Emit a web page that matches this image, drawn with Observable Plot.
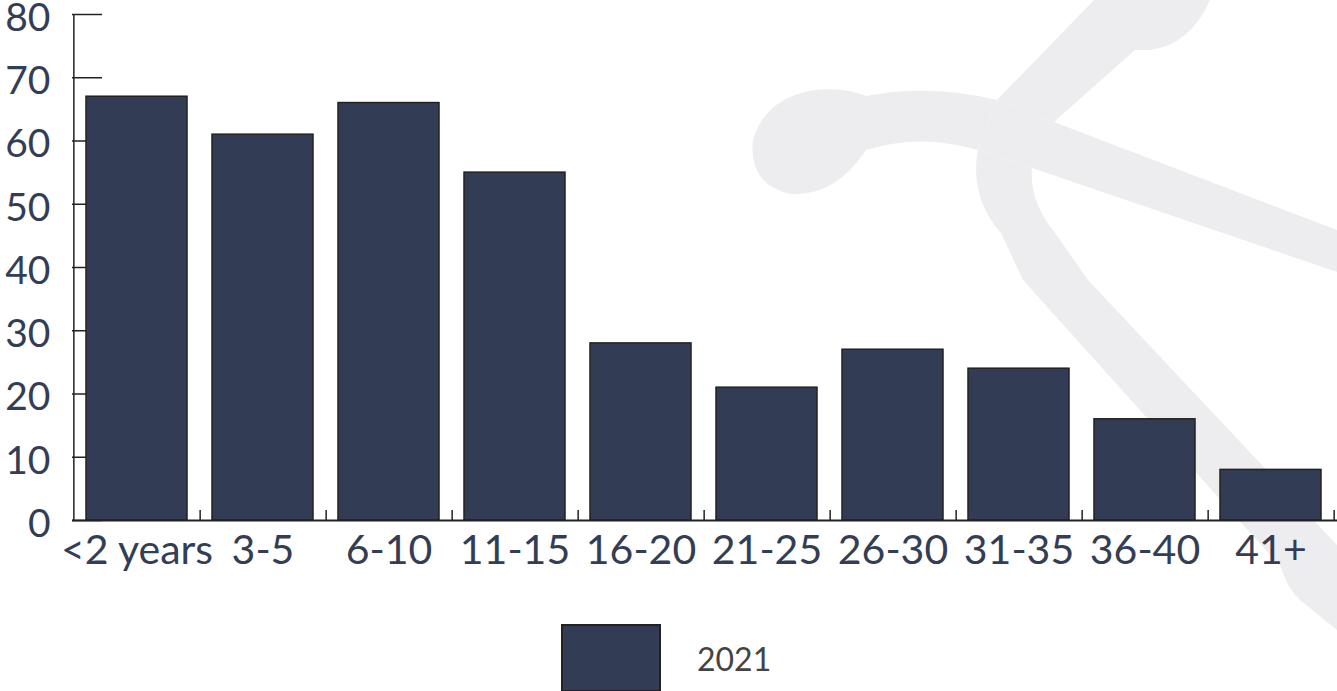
<!DOCTYPE html>
<html>
<head>
<meta charset="utf-8">
<script src="https://cdn.jsdelivr.net/npm/d3@7"></script>
<script src="https://cdn.jsdelivr.net/npm/@observablehq/plot@0.6"></script>
<style>
  html, body { margin: 0; padding: 0; background: #fff; }
  #wrap { position: relative; width: 1337px; height: 691px; overflow: hidden; font-family: Lato, "Noto Sans", sans-serif; }
  #bg { position: absolute; left: 0; top: 0; z-index: 0; }
  #chart { position: absolute; left: 0; top: 0; z-index: 1; }
  #legend { position: absolute; left: 561px; top: 624px; z-index: 2; display: flex; align-items: center; }
  #legend .sw { width: 96px; height: 64px; background: #333c55; border: 2px solid #222; box-sizing: content-box; }
  #legend .lb { margin-left: 36px; font-size: 32px; color: #444; font-family: Lato, sans-serif; }
</style>
</head>
<body>
<div id="wrap">
  <svg id="bg" width="1337" height="691" xmlns="http://www.w3.org/2000/svg">
    <g fill="#ededf0">
      <path d="M866 96 Q930 84 997 100 L978 150 Q920 133 866 150 Q835 197 790 194 Q748 184 753 140 Q765 98 815 90 Q845 87 866 96 Z"/>
      <path d="M1094 0 L1210 0 Q1190 45 1150 50 L1135 50 L1054 122 L997 100 Z"/>
      <path d="M997 100 L1054 122 L1032 168 L978 150 Z"/>
      <path d="M1054 122 L1337 230 L1337 272 L1032 168 Z"/>
      <path d="M978 150 C972 180 980 210 1001 233 L1023 280 L1281 567 Q1288 590 1300 600 L1337 630 L1337 545 L1088 280 L1055 233 C1038 212 1030 190 1032 168 Z"/>
    </g>
  </svg>
  <div id="chart"></div>
  <div id="legend"><div class="sw"></div><div class="lb">2021</div></div>
</div>
<script>
const categories = ["<2 years", "3-5", "6-10", "11-15", "16-20", "21-25", "26-30", "31-35", "36-40", "41+"];
const values2021 = [67, 61, 66, 55, 28, 21, 27, 24, 16, 8];
const yTicks = [0, 10, 20, 30, 40, 50, 60, 70, 80];
const seriesName = "2021";

const data = categories.map((c, i) => ({category: c, value: values2021[i], series: seriesName}));

const W = 1337, H = 600;
const mL = 72, mR = 2, mT = 14, mB = 80;
const step = (W - mL - mR) / categories.length;
const textColor = "#333d55";

const chart = Plot.plot({
  width: W,
  height: H,
  marginLeft: mL,
  marginRight: mR,
  marginTop: mT,
  marginBottom: mB,
  style: {background: "transparent", fontFamily: "Lato, sans-serif", color: textColor, overflow: "visible"},
  x: {domain: categories, paddingInner: 0.2, paddingOuter: 0.1, label: null},
  y: {domain: [0, 80], label: null},
  marks: [
    Plot.ruleY(yTicks, {y: d => d, stroke: "#222", strokeWidth: 1.5, insetRight: W - mL - mR - 30}),
    Plot.barY(data, {x: "category", y: "value", fill: "#333c55", stroke: "#222", strokeWidth: 1.5}),
    Plot.axisX({tickSize: 0, tickPadding: 14, fontSize: 41, fill: textColor, label: null}),
    Plot.axisY({ticks: yTicks, tickSize: 0, tickPadding: 22, fontSize: 39, dy: 4, fill: textColor, label: null}),
    Plot.ruleX([categories[0]], {x: d => d, dx: -step / 2, y1: 0, y2: 80, stroke: "#222", strokeWidth: 1.5}),
    Plot.ruleY([0], {stroke: "#222", strokeWidth: 2, insetRight: -2}),
    Plot.ruleX(categories, {x: d => d, dx: step / 2, y1: 0, y2: 1.6, stroke: "#222", strokeWidth: 1.5})
  ]
});
document.getElementById("chart").appendChild(chart);
</script>
</body>
</html>
